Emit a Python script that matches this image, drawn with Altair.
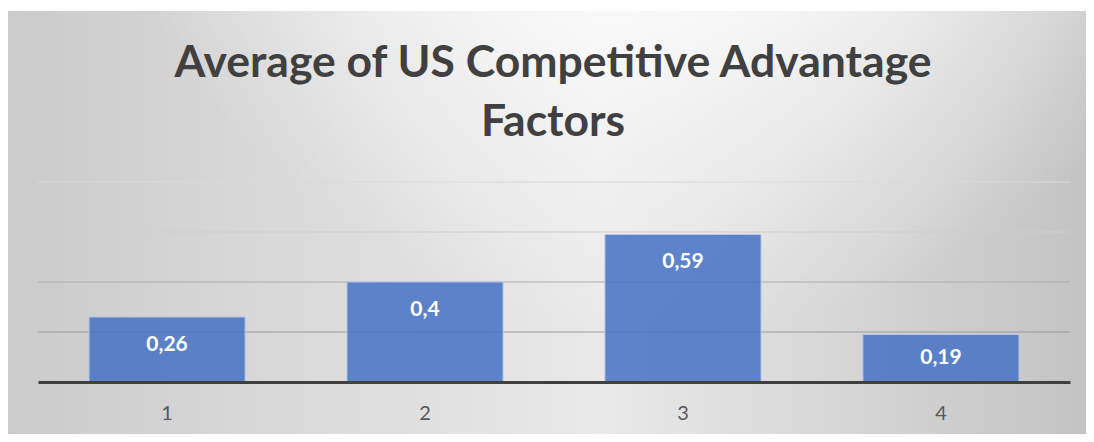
import altair as alt
import pandas as pd

# ---- data ----
categories = ["1", "2", "3", "4"]
values = [0.26, 0.4, 0.59, 0.19]
grid_ticks = [0.2, 0.4, 0.6, 0.8]
grid_colors = ["#9a9a9a", "#adadad", "#cdcdcd", "#d9d9d9"]
y_domain = [0, 0.8]
title_lines = ["Average of US Competitive Advantage", "Factors"]

df = pd.DataFrame({"cat": categories, "val": values})
gdf = pd.DataFrame({"g": grid_ticks})
one = pd.DataFrame({"k": [0]})

FONT = "Lato"
W, H = 1032, 200

# ---- background (chart area gradient) ----
base_grad = alt.LinearGradient(
    gradient="linear",
    x1=0, y1=0, x2=1, y2=0,
    stops=[
        alt.GradientStop(color="#cbcbcb", offset=0),
        alt.GradientStop(color="#e9e9e9", offset=0.55),
        alt.GradientStop(color="#c3c3c3", offset=1),
    ],
)
glow_grad = alt.RadialGradient(
    gradient="radial",
    x1=0.62, y1=0.05, r1=0,
    x2=0.62, y2=0.05, r2=0.55,
    stops=[
        alt.GradientStop(color="rgba(255,255,255,1)", offset=0),
        alt.GradientStop(color="rgba(255,255,255,0.85)", offset=0.4),
        alt.GradientStop(color="rgba(255,255,255,0)", offset=1),
    ],
)

bg_enc = dict(
    x=alt.value(-30), x2=alt.value(1048),
    y=alt.value(-171), y2=alt.value(252),
)
bg1 = alt.Chart(one).mark_rect(fill=base_grad).encode(**bg_enc)
bg2 = alt.Chart(one).mark_rect(fill=glow_grad).encode(**bg_enc)

y_scale = alt.Scale(domain=y_domain, nice=False, zero=True)

grid = alt.Chart(gdf).mark_rule(strokeWidth=1.2).encode(
    y=alt.Y("g:Q", scale=y_scale, axis=None),
    x=alt.value(0), x2=alt.value(W),
    color=alt.Color("g:O", scale=alt.Scale(domain=grid_ticks, range=grid_colors), legend=None),
)

x_enc = alt.X(
    "cat:N",
    sort=categories,
    scale=alt.Scale(paddingInner=0.395, paddingOuter=0.1977),
    axis=alt.Axis(
        title=None, labelAngle=0, ticks=False, tickSize=0,
        labelPadding=31, labelBaseline="middle",
        labelFont=FONT, labelFontSize=20, labelColor="#595959",
        domainColor="#404040", domainWidth=3, grid=False, zindex=1,
    ),
)

bars = alt.Chart(df).mark_bar(
    fill="#4472C4", fillOpacity=0.85, stroke="#b4c7e7", strokeWidth=1,
).encode(x=x_enc, y=alt.Y("val:Q", scale=y_scale, axis=None))

labels = alt.Chart(df).transform_calculate(
    laby="max(datum.val - 0.11, datum.val / 2)",
    lab="replace(toString(datum.val), '.', ',')",
).mark_text(
    font=FONT, fontSize=21, fontWeight="bold", color="white", baseline="middle",
).encode(
    x=alt.X("cat:N", sort=categories),
    y=alt.Y("laby:Q"),
    text="lab:N",
)

title = alt.Chart(one).mark_text(
    text=title_lines, font=FONT, fontSize=44.5, fontWeight="bold",
    color="#404040", lineHeight=59, align="center", baseline="alphabetic",
).encode(x=alt.value(W / 2 - 1), y=alt.value(-105))

chart = alt.layer(bg1, bg2, grid, bars, labels, title).properties(
    width=W,
    height=H,
    autosize=alt.AutoSizeParams(type="none"),
    padding={"left": 30, "top": 174, "right": 16, "bottom": 52},
    background="white",
).configure_view(stroke=None)

chart.save("out.html", embed_options={"renderer": "svg", "actions": False})
